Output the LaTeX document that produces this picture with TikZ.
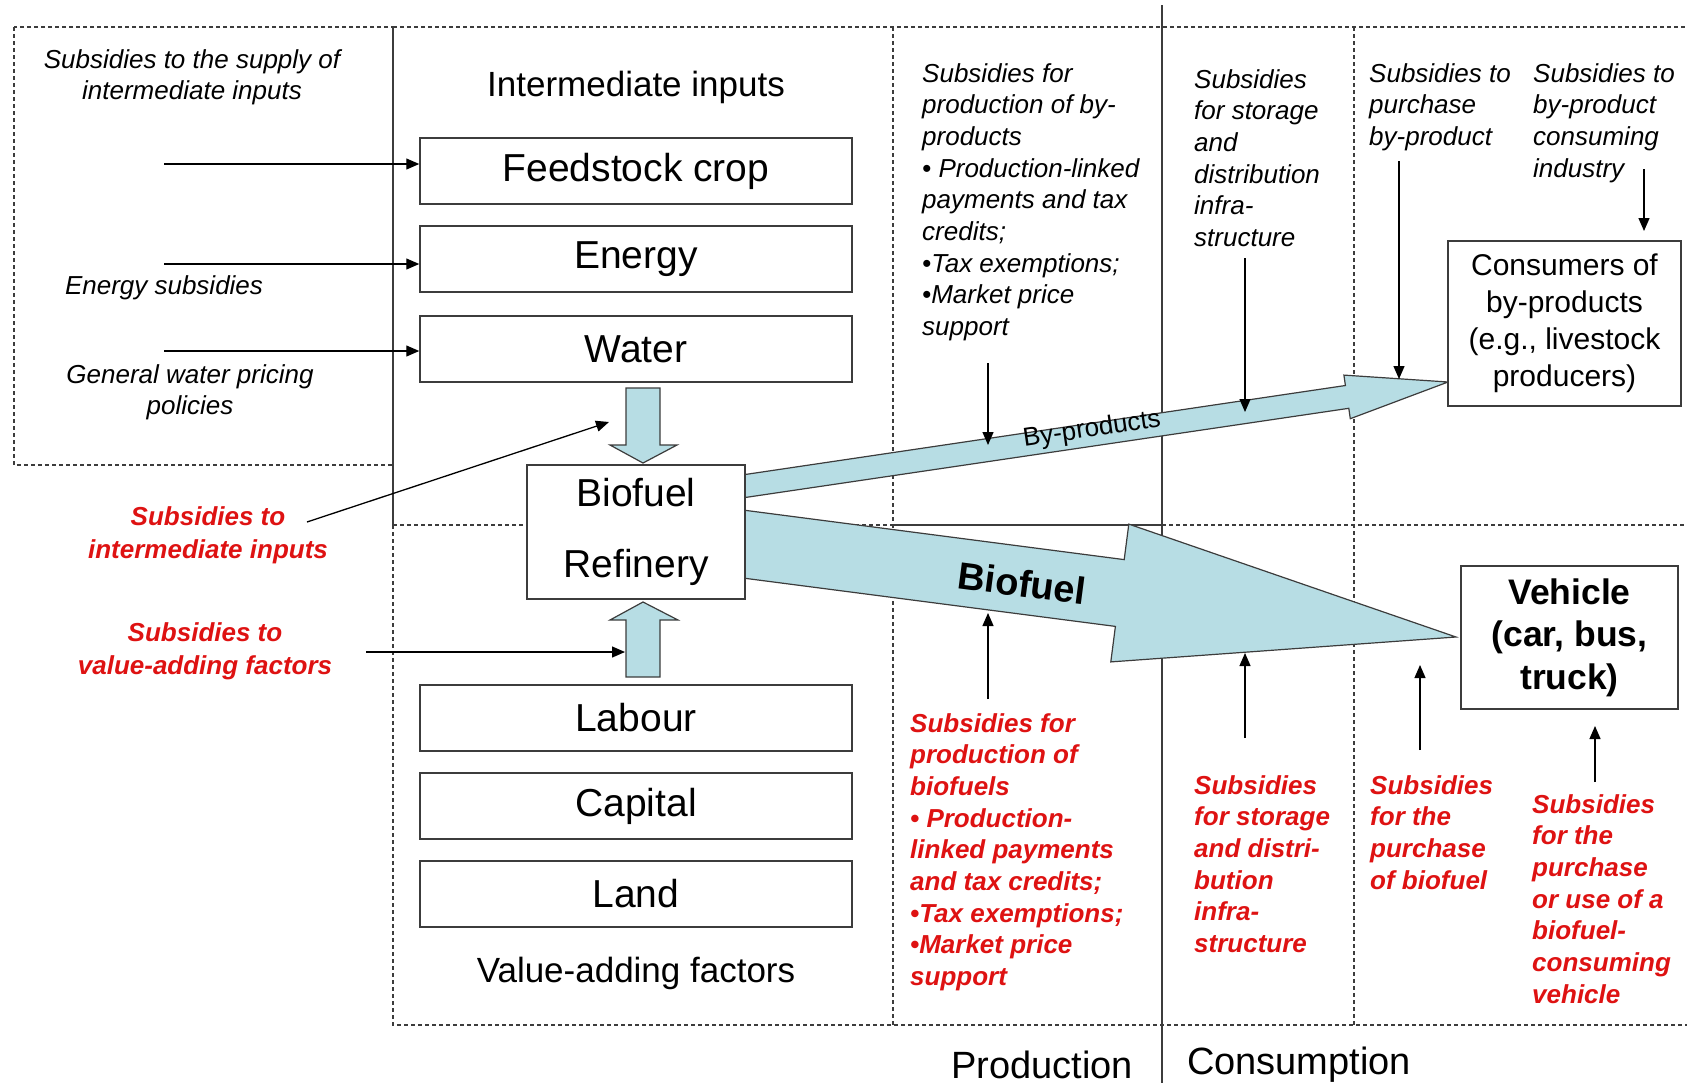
\documentclass[tikz,border=0pt]{standalone}
\usepackage{fontspec}
\setmainfont{Liberation Sans}
\usetikzlibrary{arrows.meta}

\definecolor{flowblue}{RGB}{183,221,228}
\definecolor{subred}{RGB}{222,18,18}
\definecolor{linegray}{RGB}{60,60,60}

\tikzset{
  box/.style={draw=linegray, line width=1.5pt, fill=white, minimum width=432pt,
    minimum height=66pt, inner sep=0pt, font=\fontsize{39}{46}\selectfont},
  note/.style={font=\fontsize{26}{31.7}\selectfont\itshape, align=left,
    anchor=north west, inner sep=0pt},
  rednote/.style={note, text=subred, font=\fontsize{26}{31.7}\selectfont\bfseries\itshape},
  zone/.style={draw=linegray, dash pattern=on 4pt off 3pt, line width=1.2pt},
  ptr/.style={-{Triangle[length=13pt,width=11pt]}, line width=1.3pt},
  flow/.style={fill=flowblue, draw=linegray, line width=1.2pt, line join=miter}
}

\begin{document}
\begin{tikzpicture}[x=1pt, y=-1pt]
  \useasboundingbox (0,0) rectangle (1687,1088);

  % frames and dividers
  \draw[zone] (14,27) rectangle (393,465);
  \draw[zone] (393,27) -- (1687,27);
  \draw[zone] (393,525) -- (393,1025) -- (1687,1025);
  \draw[line width=1.2pt, linegray] (393,27) -- (393,525);
  \draw[zone] (893,27) -- (893,1025);
  \draw[zone] (1354,27) -- (1354,1025);
  \draw[zone] (393,525) -- (893,525);
  \draw[zone] (1162,525) -- (1687,525);
  \draw[line width=1.2pt, linegray] (893,525) -- (1162,525);
  \draw[line width=1.2pt, linegray] (1162,5) -- (1162,1083);

  % block arrows
  \draw[flow] (735,476) -- (1345.4,385.5) -- (1343.9,375.1) -- (1448,382)
    -- (1350.3,418.7) -- (1348.8,408.3) -- (735,499) -- cycle;
  \draw[flow] (735,509) -- (1124.2,559.6) -- (1128.8,524.1) -- (1456,637)
    -- (1110.8,661.9) -- (1115.4,626.4) -- (735,577) -- cycle;
  \draw[flow] (626,388) -- (660,388) -- (660,445) -- (677,445) -- (643,463)
    -- (610,445) -- (626,445) -- cycle;
  \draw[flow] (626,677) -- (660,677) -- (660,620) -- (678,620) -- (643,602)
    -- (610,620) -- (626,620) -- cycle;

  % production side
  \node[font=\fontsize{35}{42}\selectfont] (inter) at (636,87) {Intermediate inputs};
  \node[box] (feed) at (636,171) {Feedstock crop};
  \node[box] (energy) at (636,259) {Energy};
  \node[box] (water) at (636,349) {Water};
  \node[box, minimum width=218pt, minimum height=134pt, align=center] (refinery)
    at (636,532) {\raisebox{-3pt}{Biofuel}\\[25pt]\raisebox{-3pt}{Refinery}};
  \node[box] (labour) at (636,718) {Labour};
  \node[box] (capital) at (636,806) {Capital};
  \node[box] (land) at (636,894) {Land};
  \node[font=\fontsize{35}{42}\selectfont] (factors) at (636,973) {Value-adding factors};

  % consumption side
  \node[box, minimum width=233pt, minimum height=165pt, align=center,
    font=\fontsize{30}{37}\selectfont] (consumers) at (1564.5,323.5)
    {Consumers of\\by-products\\(e.g., livestock\\producers)};
  \node[box, minimum width=217pt, minimum height=143pt, align=center,
    font=\fontsize{35.5}{42.5}\selectfont\bfseries] (vehicle) at (1569.5,637.5)
    {Vehicle\\(car, bus,\\truck)};

  \node[font=\fontsize{26}{31.7}\selectfont, rotate=8.4] (byprod) at (1092,430) {By-products};
  \node[font=\fontsize{38}{44}\selectfont\bfseries, rotate=-7.45] (biofuel) at (1022,583) {Biofuel};

  % subsidy notes
  \node[note, anchor=north, align=center] (supply) at (192,49)
    {Subsidies to the supply of\\intermediate inputs};
  \node[note, anchor=center] (enersub) at (164,288) {Energy subsidies};
  \node[note, anchor=north, align=center] (watersub) at (190,364)
    {General water pricing\\policies};
  \node[rednote, anchor=north, align=center, font=\fontsize{26}{33.5}\selectfont\bfseries\itshape]
    (inputsub) at (208,506) {Subsidies to\\intermediate inputs};
  \node[rednote, anchor=north, align=center, font=\fontsize{26}{33.5}\selectfont\bfseries\itshape]
    (factorsub) at (205,622) {Subsidies to\\value-adding factors};

  \node[note] (prodby) at (922,63) {Subsidies for\\production of by-\\products\\%
    \textbullet{} Production-linked\\payments and tax\\credits;\\%
    \textbullet Tax exemptions;\\\textbullet Market price\\support};
  \node[note] (storeby) at (1194,69) {Subsidies\\for storage\\and\\distribution\\infra-\\structure};
  \node[note] (buyby) at (1369,63) {Subsidies to\\purchase\\by-product};
  \node[note] (industry) at (1533,63) {Subsidies to\\by-product\\consuming\\industry};

  \node[rednote] (prodfuel) at (910,713) {Subsidies for\\production of\\biofuels\\%
    \textbullet{} Production-\\linked payments\\and tax credits;\\%
    \textbullet Tax exemptions;\\\textbullet Market price\\support};
  \node[rednote] (storefuel) at (1194,775) {Subsidies\\for storage\\and distri-\\bution\\infra-\\structure};
  \node[rednote] (buyfuel) at (1370,775) {Subsidies\\for the\\purchase\\of biofuel};
  \node[rednote] (buycar) at (1532,794) {Subsidies\\for the\\purchase\\or use of a\\biofuel-\\consuming\\vehicle};

  \node[font=\fontsize{38}{44}\selectfont] (production) at (1042,1065) {Production};
  \node[font=\fontsize{38}{44}\selectfont] (consumption) at (1299,1065) {Consumption};

  % pointers
  \coordinate (s1) at (164,164);
  \coordinate (s2) at (164,264);
  \coordinate (s3) at (164,351);
  \draw[ptr] (s1) -- (s1 -| feed.west);
  \draw[ptr] (s2) -- (s2 -| energy.west);
  \draw[ptr] (s3) -- (s3 -| water.west);

  \coordinate (s4) at (307,522);
  \coordinate (t4) at (609,422);
  \draw[ptr] (s4) -- (t4);
  \coordinate (s5) at (366,652);
  \coordinate (t5) at (625,652);
  \draw[ptr] (s5) -- (t5);

  \coordinate (a1) at (988,363);  \coordinate (b1) at (988,445);
  \coordinate (a2) at (1245,258); \coordinate (b2) at (1245,412);
  \coordinate (a3) at (1399,161); \coordinate (b3) at (1399,379);
  \coordinate (a4) at (1644,169); \coordinate (b4) at (1644,231);
  \foreach \i in {1,...,4}
    \draw[ptr] (a\i) -- (b\i);

  \coordinate (c1) at (988,699);  \coordinate (d1) at (988,613);
  \coordinate (c2) at (1245,738); \coordinate (d2) at (1245,653);
  \coordinate (c3) at (1420,750); \coordinate (d3) at (1420,665);
  \coordinate (c4) at (1595,782); \coordinate (d4) at (1595,726);
  \foreach \i in {1,...,4}
    \draw[ptr] (c\i) -- (d\i);
\end{tikzpicture}
\end{document}
